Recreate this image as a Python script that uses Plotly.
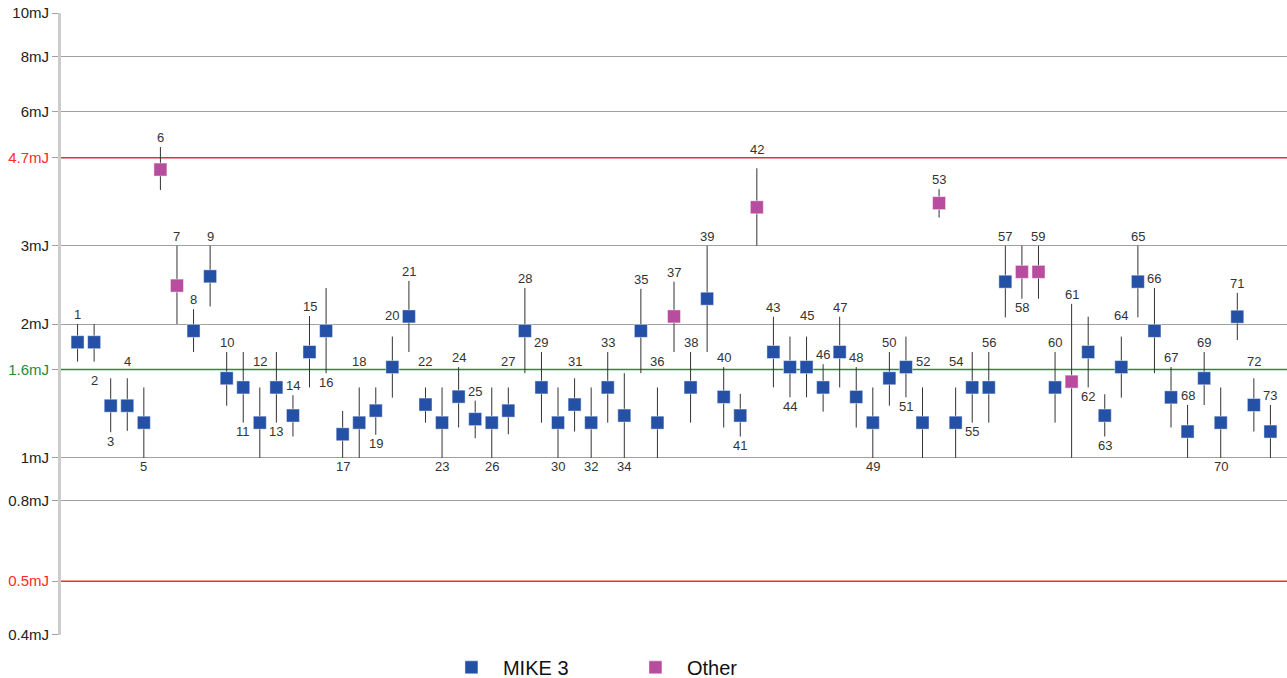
import math
import plotly.graph_objects as go

# ---- data ----
shot = list(range(1, 74))
energy = [1.82, 1.82, 1.31, 1.31, 1.20, 4.45, 2.44, 1.93, 2.56, 1.51,
          1.44, 1.20, 1.44, 1.245, 1.73, 1.93, 1.13, 1.20, 1.277, 1.60,
          2.08, 1.318, 1.20, 1.373, 1.222, 1.20, 1.277, 1.93, 1.44, 1.20,
          1.318, 1.20, 1.44, 1.245, 1.93, 1.20, 2.08, 1.44, 2.28, 1.371,
          1.245, 3.66, 1.73, 1.60, 1.60, 1.44, 1.73, 1.371, 1.20, 1.51,
          1.60, 1.20, 3.74, 1.20, 1.44, 1.44, 2.49, 2.62, 2.62, 1.44,
          1.484, 1.73, 1.245, 1.60, 2.49, 1.93, 1.368, 1.146, 1.51, 1.20,
          2.077, 1.315, 1.146]
e_max = [2.0, 2.0, 1.51, 1.51, 1.44, 5.0, 3.0, 2.16, 3.0, 1.73,
         1.73, 1.44, 1.73, 1.383, 2.085, 2.41, 1.275, 1.44, 1.44, 1.874,
         2.5, 1.44, 1.44, 1.60, 1.345, 1.44, 1.44, 2.41, 1.73, 1.44,
         1.51, 1.44, 1.73, 1.55, 2.40, 1.44, 2.49, 1.73, 3.0, 1.60,
         1.393, 4.48, 2.077, 1.874, 1.874, 1.624, 2.077, 1.60, 1.44, 1.73,
         1.874, 1.44, 4.02, 1.44, 1.73, 1.73, 3.0, 3.0, 3.0, 1.73,
         2.22, 2.077, 1.39, 1.874, 3.0, 2.41, 1.60, 1.315, 1.73, 1.44,
         2.35, 1.51, 1.315]
e_min = [1.646, 1.646, 1.142, 1.15, 1.0, 4.0, 2.0, 1.73, 2.19, 1.31,
         1.20, 1.0, 1.20, 1.117, 1.44, 1.55, 1.0, 1.0, 1.127, 1.366,
         1.73, 1.20, 1.0, 1.17, 1.107, 1.0, 1.13, 1.55, 1.20, 1.0,
         1.146, 1.0, 1.20, 1.0, 1.55, 1.0, 1.73, 1.20, 1.73, 1.17,
         1.117, 3.0, 1.44, 1.368, 1.368, 1.27, 1.44, 1.17, 1.0, 1.31,
         1.368, 1.0, 3.47, 1.0, 1.20, 1.20, 2.07, 2.28, 2.28, 1.20,
         1.0, 1.44, 1.117, 1.366, 2.07, 1.55, 1.17, 1.0, 1.315, 1.0,
         1.84, 1.146, 1.0]
other_shots = [6, 7, 37, 42, 53, 58, 59, 61]
series_names = ["MIKE 3", "Other"]

# label side per shot: 'a' above the error bar, 'b' below
label_side = list("abbabaaaaa" "babaabbaba" "aabaabaaab" "ababaaaaaa"
                  "baabaaaaba" "baaabaabaa" "abbaaaaaab" "aaa")

# tick positions as drawn in the reference (labels are rounded)
tick_vals = [0.4, 0.528, 0.8, 1, 1.58, 2, 3, 4.73, 6, 8, 10]
tick_text = ["0.4mJ", "<span style='color:#ff2a2a'>0.5mJ</span>", "0.8mJ", "1mJ",
             "<span style='color:#1e8a3c'>1.6mJ</span>", "2mJ", "3mJ",
             "<span style='color:#ff2a2a'>4.7mJ</span>", "6mJ", "8mJ", "10mJ"]
ref_lines = [(4.73, "#e8302c"), (1.58, "#2a8a45"), (0.528, "#e8302c")]

BLUE = "#2450a6"
MAGENTA = "#b84c9f"

W, H = 1287, 678
M_L, M_R, M_T, M_B = 61, 0, 13, 43
Y_LO, Y_HI = math.log10(0.4), 1.0
PLOT_H = H - M_T - M_B
PPD = PLOT_H / (Y_HI - Y_LO)


def px(v):
    return M_T + (Y_HI - math.log10(v)) * PPD


fig = go.Figure()

for ref_v, col in ref_lines:
    fig.add_trace(go.Scatter(x=[-1, 75], y=[ref_v, ref_v], mode="lines",
                             line=dict(color=col, width=1.5), showlegend=False,
                             hoverinfo="skip"))

for name in series_names:
    idx = [i for i, s in enumerate(shot) if (s in other_shots) == (name == "Other")]
    xs = [shot[i] for i in idx]
    ys = [energy[i] for i in idx]
    up = [e_max[i] - energy[i] for i in idx]
    dn = [energy[i] - e_min[i] for i in idx]
    fig.add_trace(go.Scatter(
        x=xs, y=ys, mode="markers", name=name,
        marker=dict(symbol="square", size=13,
                    color=BLUE if name == "MIKE 3" else MAGENTA,
                    line=dict(color="rgba(255,255,255,0.45)", width=1)),
        error_y=dict(type="data", symmetric=False, array=up, arrayminus=dn,
                     color="#333333", thickness=1, width=0),
    ))

annotations = []
for i, s in enumerate(shot):
    if label_side[i] == "a":
        end = e_max[i]
        lp = px(end) - 9.5
        for tv in tick_vals:
            lpx = px(tv)
            if lpx - 8.5 < lp < lpx + 10.5:
                lp = lpx - 8.5
    else:
        end = e_min[i]
        lp = px(end) + 9
        for tv in tick_vals:
            lpx = px(tv)
            if lpx - 10 < lp < lpx + 8:
                lp = lpx + 11
    shift = px(end) - lp
    annotations.append(dict(x=s, y=math.log10(end), xref="x", yref="y",
                            text=str(s), showarrow=False, yshift=shift,
                            yanchor="middle", xanchor="center",
                            font=dict(family="Liberation Sans, Arial", size=13,
                                      color="#333333")))

fig.update_layout(
    width=W, height=H,
    margin=dict(l=M_L, r=M_R, t=M_T, b=M_B, autoexpand=False),
    paper_bgcolor="white", plot_bgcolor="white",
    annotations=annotations,
    font=dict(family="Liberation Sans, Arial", color="#222222"),
    showlegend=True,
    legend=dict(orientation="h", x=0.3091, xanchor="left", y=-0.052,
                yanchor="middle", font=dict(size=20, color="#111111"),
                itemwidth=53, entrywidth=116, entrywidthmode="pixels",
                bgcolor="rgba(0,0,0,0)"),
    xaxis=dict(range=[0, 74], showgrid=False, zeroline=False, showline=False,
               showticklabels=False, ticks="", automargin=False),
    yaxis=dict(type="log", range=[Y_LO - 0.0004, Y_HI + 0.0004],
               tickmode="array", tickvals=tick_vals, ticktext=tick_text,
               tickfont=dict(size=15, color="#222222"),
               showgrid=True, gridcolor="#a0a0a0", gridwidth=1,
               ticks="outside", ticklen=6, tickcolor="#a0a0a0",
               showline=True, linecolor="#cccccc", linewidth=3,
               zeroline=False, automargin=False),
)

fig.write_html("out.html",
               config={"displayModeBar": False},
               post_script="document.body.style.margin='0';"
                           "document.body.style.overflow='hidden';")
